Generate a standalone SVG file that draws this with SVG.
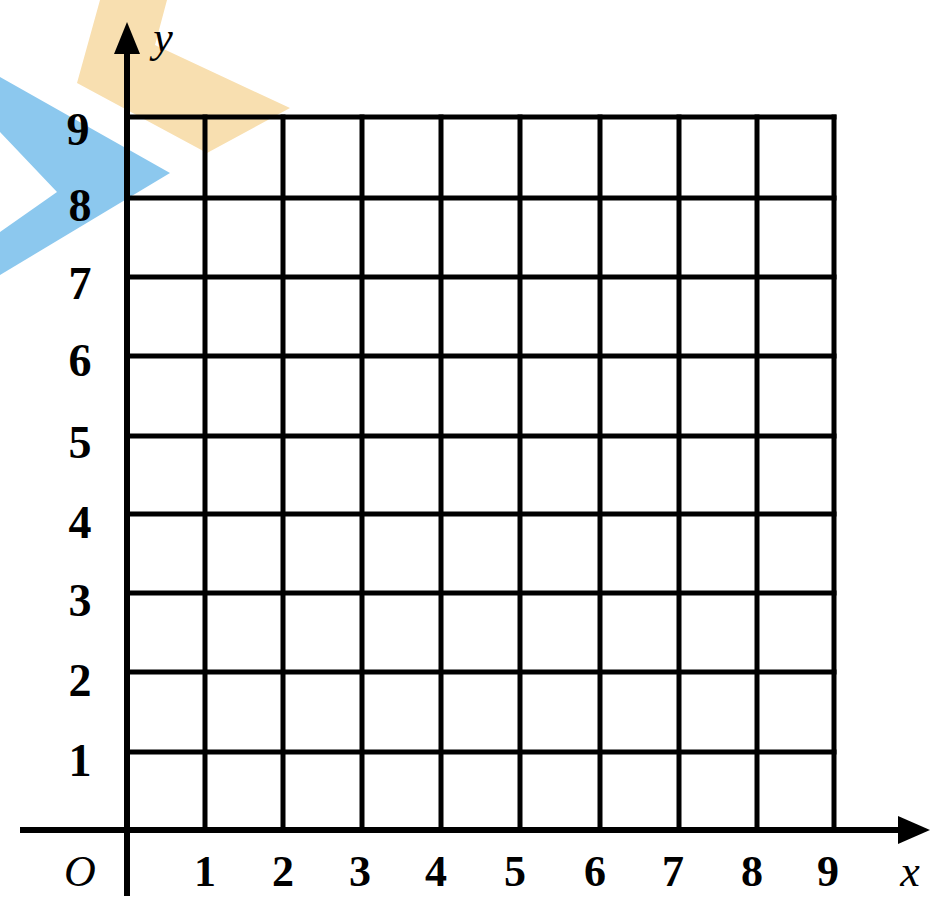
<svg xmlns="http://www.w3.org/2000/svg" width="944" height="899" viewBox="0 0 944 899">
<style>
.g{stroke:#000;stroke-width:5;fill:none;stroke-linecap:square}
.ax{stroke:#000;stroke-width:6;fill:none}
.n{font-family:"Liberation Serif",serif;font-weight:bold;font-size:46px;fill:#000;text-anchor:middle}
.b{font-family:"Liberation Serif",serif;font-weight:bold;font-size:44px;fill:#000;text-anchor:middle}
.i{font-family:"Liberation Serif",serif;font-style:italic;font-size:44px;fill:#000;text-anchor:middle}
</style>
<rect width="944" height="899" fill="#fff"/>
<g id="watermark">
<polygon points="100,0 167,0 155,45 290,108 207,153 77,83" fill="#F8DFB0"/>
<polygon points="0,77 170,173 0,275 0,232 57,192 0,132" fill="#8CC8EE"/>
</g>
<g id="grid" class="g">
<path d="M205,117V830M283,117V830M362,117V830M441,117V830M520,117V830M600,117V830M679,117V830M757,117V830M834,117V830"/>
<path d="M127,117H834M127,198H834M127,277H834M127,356H834M127,436H834M127,514H834M127,593H834M127,672H834M127,752H834"/>
</g>
<g id="axes">
<path class="ax" d="M127,896V45"/>
<polygon points="127,22 114,54 140,54" fill="#000"/>
<path class="ax" d="M20,830H905"/>
<polygon points="930,830 898,816 898,844" fill="#000"/>
</g>
<g id="labels">
<text class="n" x="78" y="145">9</text>
<text class="n" x="80" y="221">8</text>
<text class="n" x="80" y="299">7</text>
<text class="n" x="80" y="376">6</text>
<text class="n" x="80" y="458">5</text>
<text class="n" x="80" y="538">4</text>
<text class="n" x="80" y="616">3</text>
<text class="n" x="80" y="696">2</text>
<text class="n" x="80" y="776">1</text>
<text class="i" x="80" y="886">O</text>
<text class="b" x="205" y="886">1</text>
<text class="b" x="283" y="886">2</text>
<text class="b" x="360" y="886">3</text>
<text class="b" x="436" y="886">4</text>
<text class="b" x="515" y="886">5</text>
<text class="b" x="595" y="886">6</text>
<text class="b" x="673" y="886">7</text>
<text class="b" x="752" y="886">8</text>
<text class="b" x="828" y="886">9</text>
<text class="i" x="910" y="886">x</text>
<text class="i" x="163" y="52">y</text>
</g>
</svg>
